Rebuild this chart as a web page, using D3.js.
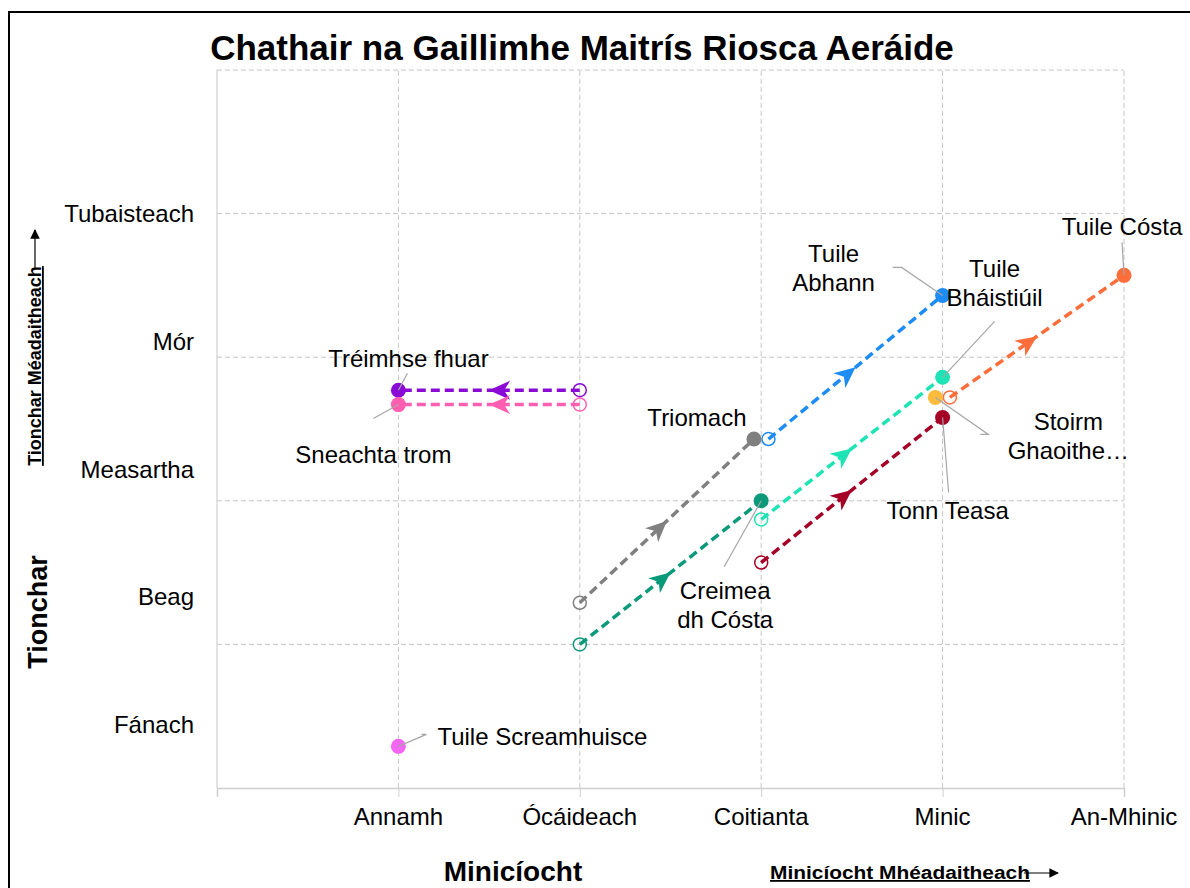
<!DOCTYPE html>
<html>
<head>
<meta charset="utf-8">
<script src="https://cdn.jsdelivr.net/npm/d3@7"></script>
<style>
  body { margin: 0; background: #fff; }
  text { font-family: "Liberation Sans", Arial, sans-serif; fill: #000; }
</style>
</head>
<body>
<script>
// Data
var freqLabels = ["Annamh", "Ócáideach", "Coitianta", "Minic", "An-Mhinic"];
var impactLabels = ["Fánach", "Beag", "Measartha", "Mór", "Tubaisteach"];

var riskNames = ["Tréimhse fhuar", "Sneachta trom", "Triomach", "Tuile Abhann", "Tuile Bháistiúil",
                 "Creimeadh Cósta", "Stoirm Ghaoithe…", "Tuile Cósta", "Tonn Teasa", "Tuile Screamhuisce"];
var labelText = ["Tréimhse fhuar", "Sneachta trom", "Triomach", "Tuile\nAbhann", "Tuile\nBháistiúil",
                 "Creimea\ndh Cósta", "Stoirm\nGhaoithe…", "Tuile Cósta", "Tonn Teasa", "Tuile Screamhuisce"];
// frequency / impact now (filled) and before (open), null = no earlier value
var freqNow   = [1, 1, 2.96, 4, 4, 3, 3.96, 5, 4, 1];
var impactNow = [2.77, 2.67, 2.43, 3.43, 2.86, 2.0, 2.72, 3.57, 2.58, 0.29];
var freqWas   = [2, 2, 2, 3.04, 3, 2, null, 4.04, 3, null];
var impactWas = [2.77, 2.67, 1.29, 2.43, 1.87, 1.0, null, 2.72, 1.57, null];
var riskColors = ["#8a0ad6", "#ff5fb0", "#808080", "#1e8cf5", "#1ee3b4",
                  "#0a9a7a", "#fbbb3c", "#ff6d3a", "#a50026", "#f266f2"];

// label placement: text centre offset from the point, leader line waypoints (offsets)
var labelLayout = [
    { dx: 10, dy: -32, anchor: "middle", leader: [[9, -17]] },
    { dx: -25, dy: 50, anchor: "middle", leader: [[-25, 14]] },
    { dx: -57, dy: -21, anchor: "middle", leader: [] },
    { dx: -109, dy: -27, anchor: "middle", leader: [[-50, -28], [-41, -28]] },
    { dx: 52, dy: -94, anchor: "middle", leader: [[52, -56]] },
    { dx: -36, dy: 104, anchor: "middle", leader: [[-37, 66]] },
    { dx: 133, dy: 39, anchor: "middle", leader: [[45, 37], [53, 37]] },
    { dx: -2, dy: -49, anchor: "middle", leader: [[-2, -33]] },
    { dx: 5, dy: 93, anchor: "middle", leader: [[6, 75]] },
    { dx: 39, dy: -10, anchor: "start", leader: [[23, -12], [28, -12]] },
];

var W = 1190, H = 888;
var svg = d3.select("body").append("svg").attr("width", W).attr("height", H);

// outer frame
svg.append("rect")
    .attr("x", 9).attr("y", 12).attr("width", W + 20).attr("height", H + 20)
    .attr("fill", "none").attr("stroke", "#000").attr("stroke-width", 2);

var x = d3.scaleLinear().domain([0, 5]).range([217, 1124]);
var y = d3.scaleLinear().domain([0, 5]).range([788, 70]);

// grid
var grid = svg.append("g");
grid.selectAll(".vg").data(d3.range(1, 6)).enter().append("line")
    .attr("x1", function(d) { return x(d); }).attr("x2", function(d) { return x(d); })
    .attr("y1", y(0)).attr("y2", y(5))
    .attr("stroke", "#c6c6c6").attr("stroke-width", 1).attr("stroke-dasharray", "5,3");
grid.selectAll(".hg").data(d3.range(1, 6)).enter().append("line")
    .attr("x1", x(0)).attr("x2", x(5))
    .attr("y1", function(d) { return y(d); }).attr("y2", function(d) { return y(d); })
    .attr("stroke", "#c6c6c6").attr("stroke-width", 1).attr("stroke-dasharray", "5,3");

// axes lines
svg.append("line").attr("x1", x(0)).attr("x2", x(0)).attr("y1", y(0)).attr("y2", y(5))
    .attr("stroke", "#cfcfcf").attr("stroke-width", 1.2);
var xAxis = d3.axisBottom(x).tickValues(d3.range(0, 6)).tickSize(9).tickFormat("");
svg.append("g").attr("transform", "translate(0," + y(0) + ")").call(xAxis)
    .call(function(g) {
        g.selectAll("path").attr("stroke", "#cfcfcf").attr("stroke-width", 1.5);
        g.selectAll("line").attr("stroke", "#cfcfcf");
    });

// tick labels
svg.selectAll(".xl").data(freqLabels).enter().append("text")
    .attr("x", function(d, i) { return x(i + 1); })
    .attr("y", 817).attr("dy", "0.35em")
    .attr("text-anchor", "middle").attr("font-size", 24)
    .text(function(d) { return d; });

var yLab = d3.scalePoint().domain(impactLabels).range([y(0.44), y(4)]);
svg.selectAll(".yl").data(impactLabels).enter().append("text")
    .attr("x", 194).attr("y", function(d) { return yLab(d); }).attr("dy", "0.35em")
    .attr("text-anchor", "end").attr("font-size", 24)
    .text(function(d) { return d; });

// titles
svg.append("text").attr("x", 582).attr("y", 60).attr("text-anchor", "middle")
    .attr("font-size", 35).attr("font-weight", "bold")
    .text("Chathair na Gaillimhe Maitrís Riosca Aeráide");
svg.append("text").attr("x", 513).attr("y", 881).attr("text-anchor", "middle")
    .attr("font-size", 28).attr("font-weight", "bold").text("Minicíocht");
svg.append("text").attr("transform", "translate(47,612) rotate(-90)").attr("text-anchor", "middle")
    .attr("font-size", 27).attr("font-weight", "bold").text("Tionchar");

// "increasing" notes with arrows
svg.append("defs").append("marker")
    .attr("id", "ah").attr("viewBox", "0 0 10 10").attr("refX", 9).attr("refY", 5)
    .attr("markerWidth", 8).attr("markerHeight", 8).attr("orient", "auto")
    .append("path").attr("d", "M0,0 L10,5 L0,10 Z").attr("fill", "#000");

svg.append("text").attr("transform", "translate(41,366) rotate(-90)").attr("text-anchor", "middle")
    .attr("font-size", 18).attr("font-weight", "bold").attr("text-decoration", "underline")
    .text("Tionchar Méadaitheach");
svg.append("line").attr("x1", 35).attr("x2", 35).attr("y1", 268).attr("y2", 230)
    .attr("stroke", "#000").attr("stroke-width", 1.2).attr("marker-end", "url(#ah)");

svg.append("text").attr("x", 770).attr("y", 879)
    .attr("font-size", 18).attr("font-weight", "bold").attr("text-decoration", "underline")
    .attr("textLength", 260).attr("lengthAdjust", "spacingAndGlyphs")
    .text("Minicíocht Mhéadaitheach");
svg.append("line").attr("x1", 1024).attr("x2", 1058).attr("y1", 873).attr("y2", 873)
    .attr("stroke", "#000").attr("stroke-width", 1.2).attr("marker-end", "url(#ah)");

// risk movements
var idx = d3.range(riskNames.length);
var moved = idx.filter(function(i) { return freqWas[i] !== null; });

var marks = svg.append("g");
marks.selectAll(".move").data(moved).enter().append("line")
    .attr("x1", function(i) { return x(freqWas[i]); })
    .attr("y1", function(i) { return y(impactWas[i]); })
    .attr("x2", function(i) { return x(freqNow[i]); })
    .attr("y2", function(i) { return y(impactNow[i]); })
    .attr("stroke", function(i) { return riskColors[i]; })
    .attr("stroke-width", 3.5).attr("stroke-dasharray", "9,5");

// direction arrow at the middle of each move
marks.selectAll(".dir").data(moved).enter().append("path")
    .attr("d", "M0,0 L-21,-9.5 L-15,0 L-21,9.5 Z")
    .attr("fill", function(i) { return riskColors[i]; })
    .attr("transform", function(i) {
        var x0 = x(freqWas[i]), y0 = y(impactWas[i]), x1 = x(freqNow[i]), y1 = y(impactNow[i]);
        var ang = Math.atan2(y1 - y0, x1 - x0) * 180 / Math.PI;
        return "translate(" + (x0 + x1) / 2 + "," + (y0 + y1) / 2 + ") rotate(" + ang + ")";
    });

marks.selectAll(".was").data(moved).enter().append("circle")
    .attr("cx", function(i) { return x(freqWas[i]); })
    .attr("cy", function(i) { return y(impactWas[i]); })
    .attr("r", 6.5).attr("fill", "none")
    .attr("stroke", function(i) { return riskColors[i]; }).attr("stroke-width", 1.5);

// leader lines
var leaders = svg.append("g");
idx.forEach(function(i) {
    var L = labelLayout[i];
    if (!L.leader.length) return;
    var px = x(freqNow[i]), py = y(impactNow[i]);
    var pts = L.leader.map(function(p) { return [px + p[0], py + p[1]]; });
    pts.push([px, py]);
    leaders.append("path").attr("d", d3.line()(pts))
        .attr("fill", "none").attr("stroke", "#a6a6a6").attr("stroke-width", 1.2);
});

marks.selectAll(".now").data(idx).enter().append("circle")
    .attr("cx", function(i) { return x(freqNow[i]); })
    .attr("cy", function(i) { return y(impactNow[i]); })
    .attr("r", 7.5)
    .attr("fill", function(i) { return riskColors[i]; });

// labels
var labels = svg.append("g");
idx.forEach(function(i) {
    var L = labelLayout[i];
    var lines = labelText[i].split("\n");
    var cx = x(freqNow[i]) + L.dx, cy = y(impactNow[i]) + L.dy;
    var lh = 29;
    var t = labels.append("text").attr("text-anchor", L.anchor).attr("font-size", 24);
    lines.forEach(function(s, k) {
        t.append("tspan").attr("x", cx)
            .attr("y", cy + (k - (lines.length - 1) / 2) * lh)
            .attr("dy", "0.35em").text(s);
    });
});
</script>
</body>
</html>
